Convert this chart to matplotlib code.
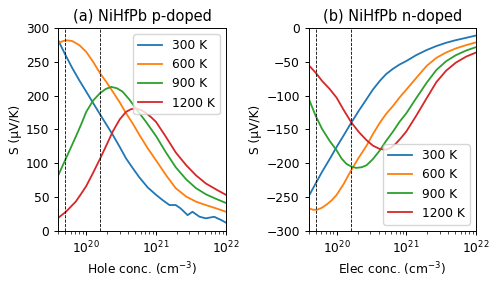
import numpy as np
import matplotlib
matplotlib.use('Agg')
import matplotlib.pyplot as plt

# x is log10 of carrier concentration (cm^-3)
temps = ['300 K', '600 K', '900 K', '1200 K']
colors = ['tab:blue', 'tab:orange', 'tab:green', 'tab:red']

# (a) p-doped
p300_x = [19.6, 19.7, 19.8, 19.9, 20.0, 20.1, 20.2, 20.29, 20.38, 20.48, 20.57, 20.67, 20.76,
          20.88, 21.0, 21.09, 21.19, 21.28, 21.35, 21.45, 21.52, 21.62, 21.71, 21.83,
          21.93, 22.0]
p300_s = [282, 261, 241, 223, 206, 189, 172, 157, 142, 124, 107, 92, 79,
          64, 53, 45.5, 38, 38, 33, 23, 28, 20.7, 18.3, 20.6,
          15.8, 11.8]
p600_x = [19.6, 19.67, 19.73, 19.8, 19.9, 20.0, 20.1, 20.2, 20.29, 20.38, 20.48, 20.57,
          20.67, 20.76, 20.88, 21.0, 21.14, 21.28, 21.43, 21.57, 21.71, 21.86, 22.0]
p600_s = [278, 281, 282, 281, 275, 265, 250, 233, 220, 206, 190, 174,
          158, 142, 122, 104, 82.5, 63, 50.5, 43, 38, 33, 28]
p900_x = [19.6, 19.71, 19.85, 19.93, 20.0, 20.1, 20.2, 20.28, 20.36, 20.44, 20.52, 20.62,
          20.71, 20.85, 21.0, 21.14, 21.28, 21.43, 21.57, 21.71, 21.86, 22.0]
p900_s = [82, 107, 139, 158, 176, 193, 204, 210, 213, 211, 206, 194,
          181, 162, 140, 116, 94, 76, 63, 54, 47, 41]
p1200_x = [19.6, 19.71, 19.85, 19.93, 20.0, 20.1, 20.2, 20.3, 20.38, 20.48, 20.57, 20.64,
           20.71, 20.78, 20.86, 20.93, 21.0, 21.14, 21.28, 21.43, 21.57, 21.71, 21.86, 22.0]
p1200_s = [19, 28, 43, 55, 66, 86, 107, 129, 147, 165, 176, 180,
           181, 179, 174, 168, 161, 139, 116, 97, 82, 70, 61, 53]

# (b) n-doped
n300_x = [19.61, 19.7, 19.79, 19.9, 20.0, 20.1, 20.21, 20.32, 20.43, 20.52, 20.62, 20.71,
          20.81, 20.9, 21.0, 21.14, 21.29, 21.43, 21.57, 21.71, 21.86, 22.0]
n300_s = [-247, -230, -213, -194, -176, -159, -140, -122, -105, -91, -78, -68,
          -60, -54, -48.6, -40, -32.4, -26.5, -21.6, -17.7, -14.2, -10.8]
n600_x = [19.61, 19.66, 19.72, 19.79, 19.86, 19.93, 20.0, 20.1, 20.2, 20.31, 20.43, 20.52,
          20.62, 20.71, 20.81, 20.9, 21.0, 21.14, 21.29, 21.43, 21.57, 21.71, 21.86, 22.0]
n600_s = [-267, -269, -269, -266, -261, -255, -247, -231, -212, -193, -174, -157,
          -140, -127, -115, -103, -91, -74, -56, -44, -36, -30, -25, -21]
n900_x = [19.61, 19.7, 19.79, 19.9, 20.0, 20.07, 20.14, 20.21, 20.28, 20.36, 20.43, 20.52,
          20.62, 20.71, 20.81, 20.9, 21.0, 21.14, 21.29, 21.43, 21.57, 21.71, 21.86, 22.0]
n900_s = [-107, -130, -149, -167, -181, -193, -201, -205, -207, -206, -203, -194,
          -181, -167, -153, -139, -126, -104, -81, -62, -49, -40, -33, -28]
n1200_x = [19.61, 19.7, 19.79, 19.9, 20.0, 20.1, 20.21, 20.32, 20.43, 20.52, 20.62, 20.71,
           20.78, 20.85, 20.92, 21.0, 21.14, 21.29, 21.43, 21.57, 21.71, 21.86, 22.0]
n1200_s = [-56, -66, -78, -90, -103, -121, -139.5, -154, -166, -174, -179, -180,
           -177, -171, -163, -153, -130, -104, -80, -63, -51, -42, -36]

vlines = [5e19, 1.6e20]

p_data = [(p300_x, p300_s), (p600_x, p600_s), (p900_x, p900_s), (p1200_x, p1200_s)]
n_data = [(n300_x, n300_s), (n600_x, n600_s), (n900_x, n900_s), (n1200_x, n1200_s)]

plt.rcParams['font.size'] = 8.8
plt.rcParams['axes.linewidth'] = 0.7
for a in ['xtick', 'ytick']:
    plt.rcParams[a + '.major.size'] = 3.1
    plt.rcParams[a + '.minor.size'] = 1.8
    plt.rcParams[a + '.major.width'] = 0.7
    plt.rcParams[a + '.minor.width'] = 0.5

fig = plt.figure(figsize=(4.99, 2.82), dpi=100)
ax1 = fig.add_axes([0.117, 0.182, 0.336, 0.718])
ax2 = fig.add_axes([0.619, 0.182, 0.335, 0.718])

for ax, data in [(ax1, p_data), (ax2, n_data)]:
    for (x, s), lab, c in zip(data, temps, colors):
        ax.plot(10 ** np.array(x), s, color=c, lw=1.3, label=lab)
    for v in vlines:
        ax.axvline(v, color='k', ls='--', lw=0.6)
    ax.set_xscale('log')
    ax.set_xlim(4e19, 1e22)
    ax.set_ylabel('S (\u03bcV/K)', labelpad=3)

ax1.set_ylim(0, 300)
ax2.set_ylim(-300, 0)
ax1.set_title('(a) NiHfPb p-doped', fontsize=10.5, pad=5)
ax2.set_title('(b) NiHfPb n-doped', fontsize=10.5, pad=5)
ax1.set_xlabel('Hole conc. (cm$^{-3}$)', labelpad=2.5)
ax2.set_xlabel('Elec conc. (cm$^{-3}$)', labelpad=2.5)
ax1.legend(loc='upper right')
ax2.legend(loc='lower right')

fig.savefig('out.png', dpi=100)
